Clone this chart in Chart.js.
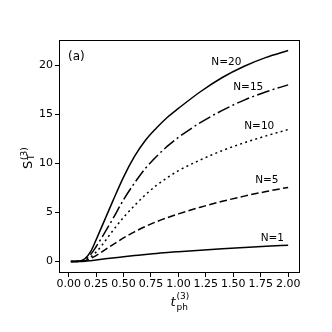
<!DOCTYPE html>
<html>
<head>
<meta charset="utf-8">
<script src="https://cdn.jsdelivr.net/npm/chart.js@4"></script>
<style>
  html, body { margin: 0; padding: 0; background: #fff; }
</style>
</head>
<body>
<canvas id="chart" width="332" height="332"></canvas>
<script>
// ===== data =====
const tPh  = [0.02, 0.1, 0.15, 0.2, 0.25, 0.3, 0.4, 0.5, 0.6, 0.7, 0.8, 0.9, 1.0, 1.2, 1.4, 1.6, 1.8, 2.0];
const sN20 = [0, 0.05, 0.3, 1.0, 2.2, 3.5, 6.1, 8.6, 10.7, 12.35, 13.6, 14.7, 15.6, 17.3, 18.75, 19.9, 20.8, 21.5];
const sN15 = [0, 0.03, 0.2, 0.7, 1.5, 2.4, 4.3, 6.3, 8.0, 9.5, 10.7, 11.75, 12.65, 14.15, 15.4, 16.45, 17.3, 18.0];
const sN10 = [0, 0.02, 0.12, 0.45, 0.95, 1.6, 3.1, 4.5, 5.7, 6.8, 7.75, 8.55, 9.25, 10.35, 11.3, 12.1, 12.8, 13.45];
const sN5  = [0, 0.01, 0.08, 0.3, 0.6, 0.95, 1.7, 2.4, 3.02, 3.57, 4.05, 4.47, 4.85, 5.53, 6.13, 6.66, 7.13, 7.55];
const sN1  = [0, 0, 0.02, 0.08, 0.15, 0.22, 0.36, 0.48, 0.6, 0.72, 0.82, 0.92, 1.0, 1.15, 1.3, 1.43, 1.55, 1.65];

const curveNames = ['N=20', 'N=15', 'N=10', 'N=5', 'N=1'];
const curveData  = [sN20, sN15, sN10, sN5, sN1];
const labelT = [1.3, 1.5, 1.6, 1.7, 1.75];   // where the N= labels sit (data coords)
const labelS = [20.0, 17.5, 13.5, 8.0, 2.1];

const xTicks = [0, 0.25, 0.5, 0.75, 1.0, 1.25, 1.5, 1.75, 2.0];
const yTicks = [0, 5, 10, 15, 20];

const FONT = "'DejaVu Sans', sans-serif";
const dashes = [[], [13, 3.3, 2, 3.3], [2, 3.3], [7.5, 3.3], []];

// ===== frame, annotations and math-style axis titles =====
const extras = {
    id: 'extras',
    afterDraw(chart) {
        const { ctx, chartArea: a, scales } = chart;
        ctx.save();
        ctx.strokeStyle = '#000';
        ctx.lineWidth = 1;
        ctx.strokeRect(a.left - 0.5, a.top + 0.5, a.right - a.left + 1, a.bottom - a.top);

        ctx.fillStyle = '#000';
        ctx.textAlign = 'left';
        ctx.textBaseline = 'alphabetic';
        ctx.font = '10.5px ' + FONT;
        curveNames.forEach((name, i) => {
            ctx.fillText(name, scales.x.getPixelForValue(labelT[i]), scales.y.getPixelForValue(labelS[i]));
        });

        ctx.font = '12px ' + FONT;
        ctx.fillText('(a)', a.left + 8, a.top + 20);

        // x title: t_ph^(3)
        const xc = (a.left + a.right) / 2 - 9;
        ctx.font = 'italic 13px ' + FONT;
        ctx.fillText('t', xc, 306);
        ctx.font = '9px ' + FONT;
        ctx.fillText('(3)', xc + 6, 299);
        ctx.fillText('ph', xc + 6, 310);

        // y title: S_T^(3)
        ctx.translate(32, (a.top + a.bottom) / 2 + 13);
        ctx.rotate(-Math.PI / 2);
        ctx.font = '13px ' + FONT;
        ctx.fillText('S', 0, 0);
        ctx.font = '9px ' + FONT;
        ctx.fillText('T', 9, 2);
        ctx.fillText('(3)', 9, -5.5);
        ctx.restore();
    }
};

new Chart(document.getElementById('chart').getContext('2d'), {
    type: 'line',
    data: {
        datasets: curveData.map((vals, i) => ({
            label: curveNames[i],
            data: tPh.map((t, k) => ({ x: t, y: vals[k] })),
            borderColor: '#000',
            borderWidth: 1.5,
            borderDash: dashes[i],
            pointRadius: 0,
            fill: false,
            cubicInterpolationMode: 'monotone'
        }))
    },
    options: {
        responsive: false,
        animation: false,
        layout: { padding: { top: 40, right: 33, left: 0, bottom: 0 } },
        plugins: { legend: { display: false }, tooltip: { enabled: false } },
        scales: {
            x: {
                type: 'linear',
                min: -0.079,
                max: 2.099,
                border: { display: false },
                grid: { drawOnChartArea: false, drawTicks: true, tickLength: 5, color: '#000' },
                afterBuildTicks: s => { s.ticks = xTicks.map(v => ({ value: v })); },
                afterFit: s => { s.height = 60; },
                ticks: {
                    color: '#000',
                    font: { family: FONT, size: 11 },
                    padding: 1,
                    maxRotation: 0,
                    autoSkip: false,
                    callback: v => Number(v).toFixed(2)
                }
            },
            y: {
                min: -1.075,
                max: 22.575,
                border: { display: false },
                grid: { drawOnChartArea: false, drawTicks: true, tickLength: 5, color: '#000' },
                afterBuildTicks: s => { s.ticks = yTicks.map(v => ({ value: v })); },
                afterFit: s => { s.width = 60; },
                ticks: {
                    color: '#000',
                    font: { family: FONT, size: 11 },
                    padding: 2,
                    callback: v => String(v)
                }
            }
        }
    },
    plugins: [extras]
});
</script>
</body>
</html>
